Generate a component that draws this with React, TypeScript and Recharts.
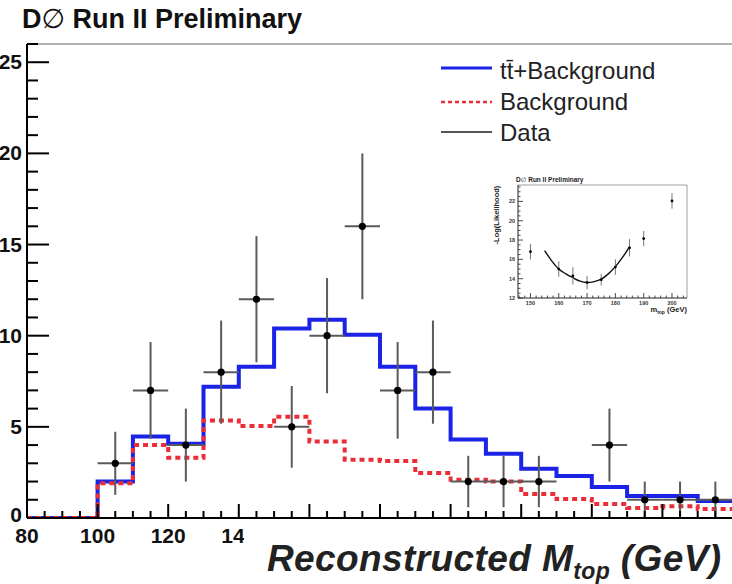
import React from "react";
import {
  ComposedChart,
  Line,
  Scatter,
  ErrorBar,
  XAxis,
  YAxis,
  ReferenceLine,
} from "recharts";

// histogram bin lower edges (GeV), 10 GeV bins
const massEdges = [80, 90, 100, 110, 120, 130, 140, 150, 160, 170, 180, 190, 200, 210, 220, 230, 240, 250, 260, 270];
const upperEdge = 280;
const ttbarPlusBkg = [0, 0, 2.0, 4.47, 4.07, 7.2, 8.3, 10.4, 10.88, 10.05, 8.3, 6.0, 4.3, 3.52, 2.7, 2.3, 1.7, 1.2, 1.2, 0.93];
const bkgOnly = [0, 0, 1.9, 4.0, 3.3, 5.35, 5.05, 5.55, 4.2, 3.2, 3.13, 2.47, 2.1, 2.0, 1.32, 1.04, 0.77, 0.55, 0.65, 0.5];

// observed events per bin (bin centres) with errors
const dataMass = [105, 115, 125, 135, 145, 155, 165, 175, 185, 195, 205, 215, 225, 245, 255, 265, 275];
const dataCounts = [3, 7, 4, 8, 12, 5, 10, 16, 7, 8, 2, 2, 2, 4, 1, 1, 1];
const dataErrors = [1.73, 2.65, 2, 2.83, 3.46, 2.24, 3.16, 4, 2.65, 2.83, 1.41, 1.41, 1.41, 2, 1, 1, 1];
const binHalfWidth = 5;

// labels left of the axis title box; the rest of the axis is unlabelled
const xMajorTicks = [80, 100, 120, 140, 160, 180, 200, 220, 240, 260, 280];
const xLabelled = [80, 100, 120, 140];
const yMajorLabels = [0, 5, 10, 15, 20, 25];

// inset: likelihood scan
const scanMass = [150, 160, 165, 170, 175, 180, 185, 190, 200];
const scanNll = [16.8, 15.0, 14.3, 13.6, 13.9, 15.2, 17.2, 18.15, 22.05];
const scanErr = [0.8, 0.8, 0.9, 0.7, 0.6, 0.8, 0.9, 0.8, 0.8];
const fitMass = [155, 157.5, 160, 162.5, 165, 167.5, 170, 172.5, 175, 177.5, 180, 182.5, 185];
const fitNll = [16.9, 15.85, 15.0, 14.5, 14.1, 13.75, 13.6, 13.7, 13.95, 14.5, 15.25, 16.2, 17.3];
const insetXLabels = [150, 160, 170, 180, 190, 200];
const insetYLabels = [12, 14, 16, 18, 20, 22];

const BLUE = "#1a23e6";
const RED = "#eb2d37";
const ERR = "#5a5a5a";
const FONT = "'Liberation Sans', Arial, Helvetica, sans-serif";

const histRows = massEdges.map((m, i) => ({ m, total: ttbarPlusBkg[i], bkg: bkgOnly[i] }));
histRows.push({
  m: upperEdge,
  total: ttbarPlusBkg[ttbarPlusBkg.length - 1],
  bkg: bkgOnly[bkgOnly.length - 1],
});

const dataRows = dataMass.map((m, i) => ({ m, n: dataCounts[i], err: dataErrors[i], xerr: binHalfWidth }));
const scanRows = scanMass.map((m, i) => ({ m, nll: scanNll[i], err: scanErr[i] }));
const fitRows = fitMass.map((m, i) => ({ m, fit: fitNll[i] }));

const range = (a: number, b: number, step: number) => {
  const out: number[] = [];
  for (let v = a; v <= b + 1e-9; v += step) out.push(Math.round(v * 100) / 100);
  return out;
};
const xTicks = range(80, 280, 5);
const yTicks = range(0, 26, 1);
const insetXTicks = range(146, 204, 2);
const insetYTicks = range(12, 23.5, 0.5);

const MainXTick = (props: any) => {
  const { x, y, payload } = props;
  const major = xMajorTicks.includes(payload.value);
  return (
    <g>
      <line x1={x} x2={x} y1={y} y2={y - (major ? 14 : 7)} stroke="#000" strokeWidth={2} />
      {xLabelled.includes(payload.value) && (
        <text x={x} y={y + 25} textAnchor="middle" fontSize={21} fontWeight="bold" fontFamily={FONT} fill="#111">
          {payload.value}
        </text>
      )}
    </g>
  );
};

const MainYTick = (props: any) => {
  const { x, y, payload } = props;
  const major = yMajorLabels.includes(payload.value);
  // the zero label is lifted a little so it sits just above the "80"
  const dy = payload.value === 0 ? 4 : 7;
  return (
    <g>
      <line x1={x} x2={x + (major ? 22 : 11)} y1={y} y2={y} stroke="#000" strokeWidth={2} />
      {major && (
        <text x={x - 5} y={y + dy} textAnchor="end" fontSize={21} fontWeight="bold" fontFamily={FONT} fill="#111">
          {payload.value}
        </text>
      )}
    </g>
  );
};

const InsetXTick = (props: any) => {
  const { x, y, payload } = props;
  const major = insetXLabels.includes(payload.value);
  return (
    <g>
      <line x1={x} x2={x} y1={y} y2={y - (major ? 5 : 2.5)} stroke="#222" strokeWidth={0.8} />
      {major && (
        <text x={x} y={y + 7} textAnchor="middle" fontSize={5.5} fontWeight="bold" fontFamily={FONT} fill="#333">
          {payload.value}
        </text>
      )}
    </g>
  );
};

const InsetYTick = (props: any) => {
  const { x, y, payload } = props;
  const major = insetYLabels.includes(payload.value);
  return (
    <g>
      <line x1={x} x2={x + (major ? 5 : 2.5)} y1={y} y2={y} stroke="#222" strokeWidth={0.8} />
      {major && (
        <text x={x - 3} y={y + 2} textAnchor="end" fontSize={5.5} fontWeight="bold" fontFamily={FONT} fill="#333">
          {payload.value}
        </text>
      )}
    </g>
  );
};

const DataDot = (props: any) => <circle cx={props.cx} cy={props.cy} r={3.6} fill="#000" />;
const ScanDot = (props: any) => <circle cx={props.cx} cy={props.cy} r={1.4} fill="#000" />;

function MassChart() {
  return (
    <ComposedChart width={760} height={584} margin={{ top: 44, right: 27, bottom: 0, left: 0 }}>
      <XAxis
        dataKey="m"
        type="number"
        domain={[80, 280]}
        ticks={xTicks}
        interval={0}
        tickSize={0}
        tickMargin={0}
        tick={MainXTick}
        height={66}
        axisLine={{ stroke: "#000", strokeWidth: 2 }}
        allowDataOverflow
      />
      <YAxis
        type="number"
        domain={[0, 26]}
        ticks={yTicks}
        interval={0}
        tickSize={0}
        tickMargin={0}
        tick={MainYTick}
        width={27}
        axisLine={{ stroke: "#000", strokeWidth: 2 }}
        allowDataOverflow
      />
      <ReferenceLine y={26} stroke="#999" strokeWidth={1.5} />
      <Line
        data={histRows}
        dataKey="total"
        type="stepAfter"
        stroke={BLUE}
        strokeWidth={4}
        dot={false}
        isAnimationActive={false}
      />
      <Line
        data={histRows}
        dataKey="bkg"
        type="stepAfter"
        stroke={RED}
        strokeWidth={4}
        strokeDasharray="5 4"
        dot={false}
        isAnimationActive={false}
      />
      <Scatter data={dataRows} dataKey="n" shape={DataDot} isAnimationActive={false}>
        <ErrorBar dataKey="err" direction="y" width={0} stroke={ERR} strokeWidth={2} />
        <ErrorBar dataKey="xerr" direction="x" width={0} stroke={ERR} strokeWidth={2} />
      </Scatter>
    </ComposedChart>
  );
}

function LikelihoodInset() {
  return (
    <div style={{ position: "absolute", left: 483, top: 170, width: 225, height: 145, background: "#fff" }}>
      <ComposedChart width={225} height={145} margin={{ top: 15, right: 21, bottom: 0, left: 0 }}>
        <XAxis
          dataKey="m"
          type="number"
          domain={[145.6, 205.3]}
          ticks={insetXTicks}
          interval={0}
          tickSize={0}
          tickMargin={0}
          tick={InsetXTick}
          height={17}
          axisLine={{ stroke: "#222", strokeWidth: 1 }}
          allowDataOverflow
        />
        <YAxis
          type="number"
          domain={[12, 23.7]}
          ticks={insetYTicks}
          interval={0}
          tickSize={0}
          tickMargin={0}
          tick={InsetYTick}
          width={35}
          axisLine={{ stroke: "#222", strokeWidth: 1 }}
          allowDataOverflow
        />
        <ReferenceLine y={23.7} stroke="#888" strokeWidth={0.8} />
        <ReferenceLine x={205.3} stroke="#888" strokeWidth={0.8} />
        <Line
          data={fitRows}
          dataKey="fit"
          type="monotone"
          stroke="#111"
          strokeWidth={1.4}
          dot={false}
          isAnimationActive={false}
        />
        <Scatter data={scanRows} dataKey="nll" shape={ScanDot} isAnimationActive={false}>
          <ErrorBar dataKey="err" direction="y" width={0} stroke="#777" strokeWidth={1} />
        </Scatter>
      </ComposedChart>
      <svg width={225} height={145} style={{ position: "absolute", left: 0, top: 0, pointerEvents: "none" }}>
        <text x={33} y={12} fontSize={6.5} fontWeight="bold" fontFamily={FONT} fill="#222">
          D<tspan fontWeight="normal" fontFamily="'DejaVu Sans', sans-serif">∅</tspan> Run II Preliminary
        </text>
        <text
          transform="translate(16 45) rotate(-90)"
          textAnchor="middle"
          fontSize={7.5}
          fontWeight="bold"
          fontFamily={FONT}
          fill="#222"
        >
          -Log(Likelihood)
        </text>
        <text x={204} y={142} textAnchor="end" fontSize={7.5} fontWeight="bold" fontFamily={FONT} fill="#222">
          m<tspan fontSize={5} dy={2}>top</tspan>
          <tspan dy={-2}> (GeV)</tspan>
        </text>
      </svg>
    </div>
  );
}

function Overlay() {
  return (
    <svg width={732} height={584} style={{ position: "absolute", left: 0, top: 0, pointerEvents: "none" }}>
      <text x={22} y={28} fontSize={27} fontWeight="bold" fontFamily={FONT} fill="#111">
        D<tspan fontWeight="normal" fontFamily="'DejaVu Sans', sans-serif">∅</tspan> Run II Preliminary
      </text>

      <line x1={441} x2={492} y1={68} y2={68} stroke={BLUE} strokeWidth={3} />
      <text x={500} y={79} fontSize={24} fontFamily={FONT} fill="#222">
        tt̄+Background
      </text>
      <line x1={441} x2={492} y1={102} y2={102} stroke={RED} strokeWidth={2.5} strokeDasharray="4 3" />
      <text x={500} y={110} fontSize={24} fontFamily={FONT} fill="#222">
        Background
      </text>
      <line x1={441} x2={492} y1={132} y2={132} stroke="#555" strokeWidth={2} />
      <text x={500} y={141} fontSize={24} fontFamily={FONT} fill="#222">
        Data
      </text>

      {/* axis title sits on a white box that hides the end of the "140" label */}
      <rect x={244} y={523} width={488} height={61} fill="#fff" />
      <text
        x={267}
        y={571}
        fontSize={37}
        fontWeight="bold"
        fontStyle="italic"
        fontFamily={FONT}
        letterSpacing={0.4}
        fill="#222"
      >
        Reconstructed M<tspan fontSize={23} dy={8}>top</tspan>
        <tspan dy={-8}> (GeV)</tspan>
      </text>
    </svg>
  );
}

export default function App() {
  return (
    <div
      style={{
        position: "absolute",
        left: 0,
        top: 0,
        width: 732,
        height: 584,
        overflow: "hidden",
        background: "#fff",
      }}
    >
      <MassChart />
      <Overlay />
      <LikelihoodInset />
    </div>
  );
}
